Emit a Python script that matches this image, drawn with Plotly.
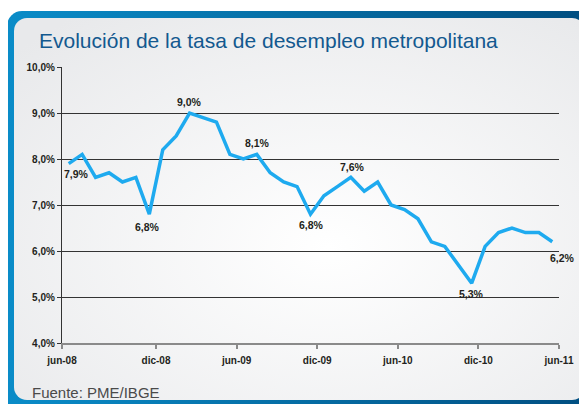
import base64
import plotly.graph_objects as go

# ---- data ----
months = ["jun-08", "jul-08", "ago-08", "sep-08", "oct-08", "nov-08", "dic-08",
          "ene-09", "feb-09", "mar-09", "abr-09", "may-09", "jun-09", "jul-09",
          "ago-09", "sep-09", "oct-09", "nov-09", "dic-09",
          "ene-10", "feb-10", "mar-10", "abr-10", "may-10", "jun-10", "jul-10",
          "ago-10", "sep-10", "oct-10", "nov-10", "dic-10",
          "ene-11", "feb-11", "mar-11", "abr-11", "may-11", "jun-11"]
rate = [7.9, 8.1, 7.6, 7.7, 7.5, 7.6, 6.8,
        8.2, 8.5, 9.0, 8.9, 8.8, 8.1, 8.0, 8.1, 7.7, 7.5, 7.4, 6.8,
        7.2, 7.4, 7.6, 7.3, 7.5, 7.0, 6.9, 6.7, 6.2, 6.1, 5.7, 5.3,
        6.1, 6.4, 6.5, 6.4, 6.4, 6.2]
x_tick_labels = ["jun-08", "dic-08", "jun-09", "dic-09", "jun-10", "dic-10", "jun-11"]
# ticks sit on category boundaries (first on the left edge, others after the month)
x_tick_pos = [-0.5, 6.5, 12.5, 18.5, 24.5, 30.5, 36.5]
y_ticks = [4, 5, 6, 7, 8, 9, 10]
y_tick_labels = ["4,0%", "5,0%", "6,0%", "7,0%", "8,0%", "9,0%", "10,0%"]
# labelled points: (index, xshift, yshift)
labelled = [(0, 8, -10), (6, -2, -13), (9, 0, 11), (14, 1, 11),
            (18, 1, -11), (21, 2, 10), (30, 0, -11), (36, 10, -16)]

title = "Evolución de la tasa de desempleo metropolitana"
source = "Fuente: PME/IBGE"

FONT = "Liberation Sans, Arial, sans-serif"
# page has an 8px body margin: figure fills the rest of the 587x404 window
W, H = 579, 396
ML, MT = 54, 59
PW, PH = 497, 276
MR, MB = W - ML - PW, H - MT - PH

x = list(range(len(rate)))

fig = go.Figure()
fig.add_trace(go.Scatter(x=x, y=rate, mode="lines",
                         line=dict(color="#1eaaef", width=3.5),
                         hoverinfo="skip", showlegend=False))

for i, dx, dy in labelled:
    fig.add_annotation(x=x[i], y=rate[i], text=f"{rate[i]:.1f}%".replace(".", ","),
                       showarrow=False, xshift=dx, yshift=dy,
                       font=dict(family=FONT, size=10.5, color="#231f20", weight="bold"))

# background frame (decorative)
svg = f"""<svg xmlns='http://www.w3.org/2000/svg' width='{W}' height='{H}' viewBox='0 0 {W} {H}'>
<defs>
<linearGradient id='b' x1='0' y1='0' x2='1' y2='0'>
<stop offset='0' stop-color='#0a8cc8'/><stop offset='1' stop-color='#004a7c'/></linearGradient>
<radialGradient id='g' cx='0.55' cy='0.6' r='0.75'>
<stop offset='0' stop-color='#ffffff'/><stop offset='1' stop-color='#e8e9eb'/></radialGradient>
</defs>
<rect width='{W}' height='{H}' fill='#ffffff'/>
<rect x='-1' y='3' width='620' height='430' rx='15' fill='url(#b)'/>
<rect x='6' y='10' width='571' height='382' rx='13' fill='url(#g)'/>
</svg>"""
src = "data:image/svg+xml;base64," + base64.b64encode(svg.encode()).decode()
fig.add_layout_image(source=src, xref="paper", yref="paper",
                     x=-ML / PW, y=1 + MT / PH, sizex=W / PW, sizey=H / PH,
                     xanchor="left", yanchor="top", sizing="stretch", layer="below")

fig.add_annotation(xref="paper", yref="paper", x=(260 - ML) / PW, y=1 + (MT - 32) / PH,
                   text=title, showarrow=False, xanchor="center", yanchor="middle",
                   font=dict(family=FONT, size=21, color="#13598f"))
fig.add_annotation(xref="paper", yref="paper", x=(22 - ML) / PW, y=-(384 - MT - PH) / PH,
                   text=source, showarrow=False, xanchor="left", yanchor="middle",
                   font=dict(family=FONT, size=15, color="#4a4a4a"))

fig.update_layout(
    width=W, height=H,
    margin=dict(l=ML, r=MR, t=MT, b=MB, pad=0),
    paper_bgcolor="rgba(0,0,0,0)", plot_bgcolor="rgba(0,0,0,0)",
    font=dict(family=FONT, size=10, color="#231f20"),
    xaxis=dict(range=[-0.5, 36.5], tickvals=x_tick_pos,
               ticktext=x_tick_labels, showgrid=False, zeroline=False,
               showline=True, linecolor="#8a8a8a", linewidth=1.5,
               ticks="outside", ticklen=4, tickcolor="#8a8a8a", tickwidth=1.5,
               ticklabelstandoff=3,
               tickfont=dict(family=FONT, size=10, color="#231f20", weight="bold")),
    yaxis=dict(range=[4, 10], tickvals=y_ticks, ticktext=y_tick_labels,
               showgrid=True, gridcolor="#333333", gridwidth=1.2, zeroline=False,
               showline=True, linecolor="#333333", linewidth=1.2,
               ticks="outside", ticklen=4, tickcolor="#333333", tickwidth=1,
               tickfont=dict(family=FONT, size=10, color="#231f20", weight="bold")),
)

fig.write_html("out.html")
